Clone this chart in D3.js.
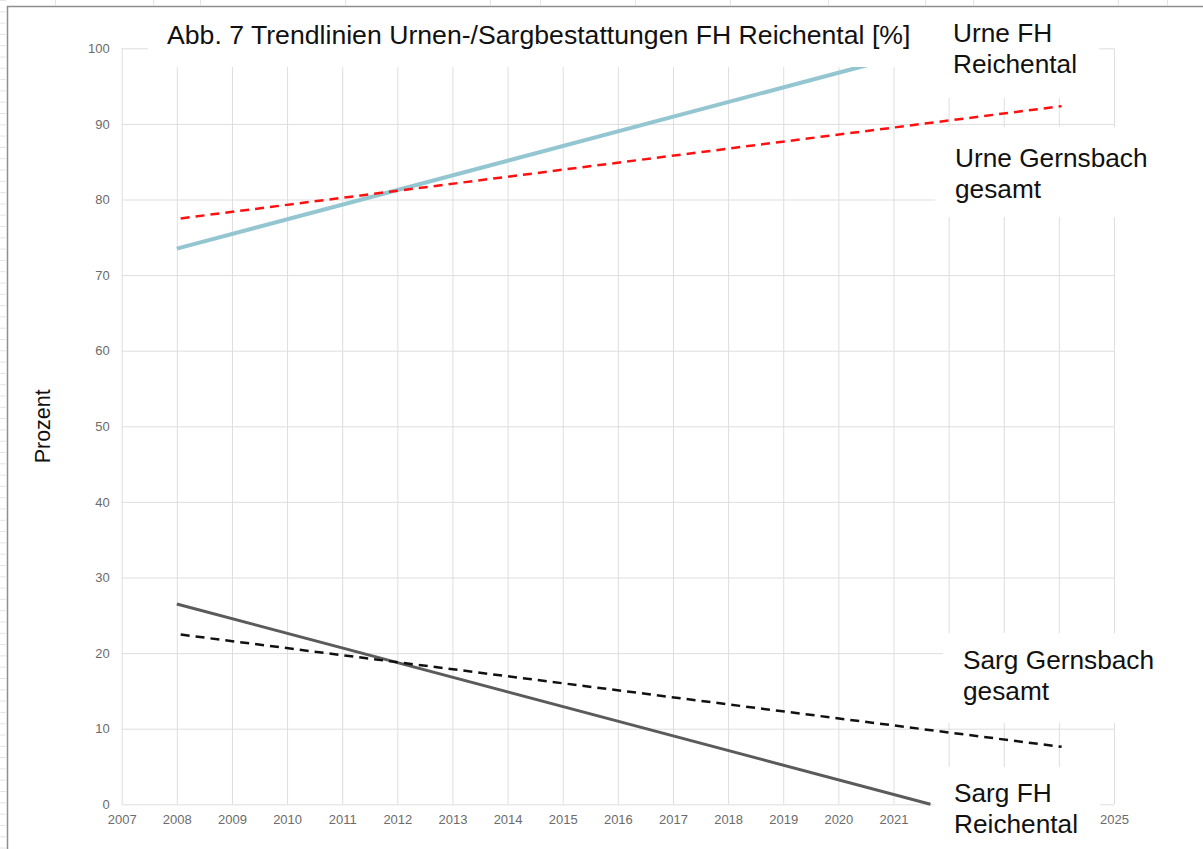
<!DOCTYPE html>
<html>
<head>
<meta charset="utf-8">
<script src="https://cdn.jsdelivr.net/npm/d3@7"></script>
<style>
  html, body { margin: 0; padding: 0; background: #fff; }
  svg { display: block; font-family: "Liberation Sans", Arial, sans-serif; }
  .tick text { fill: #6b6b6b; font-size: 13px; }
  .grid line { stroke: #dedede; stroke-width: 1; }
  .grid .domain { display: none; }
</style>
</head>
<body>
<svg id="chart" width="1203" height="849"></svg>
<script>
// axis ticks
const yearTicks = [2007, 2008, 2009, 2010, 2011, 2012, 2013, 2014, 2015, 2016,
	2017, 2018, 2019, 2020, 2021, 2022, 2023, 2024, 2025]
const percentTicks = [0, 10, 20, 30, 40, 50, 60, 70, 80, 90, 100]

// trend lines, start and end points [year, percent]
const urneFH = [[2008, 73.5], [2021.67, 100]]
const urneGernsbach = [[2008.07, 77.5], [2024.05, 92.35]]
const sargGernsbach = [[2008.07, 22.45], [2024.05, 7.6]]
const sargFH = [[2008, 26.5], [2021.67, 0]]

const titleText = 'Abb. 7 Trendlinien Urnen-/Sargbestattungen FH Reichental [%]'
const labelUrneFH = ['Urne FH', 'Reichental']
const labelUrneGernsbach = ['Urne Gernsbach', 'gesamt']
const labelSargGernsbach = ['Sarg Gernsbach', 'gesamt']
const labelSargFH = ['Sarg FH', 'Reichental']

const svg = d3.select('#chart')

const plotLeft = 121.7, plotRight = 1114, plotTop = 48.3, plotBottom = 804.3

const x = d3.scaleLinear().domain([2007, 2025]).range([plotLeft, plotRight])
const y = d3.scaleLinear().domain([0, 100]).range([plotBottom, plotTop])

// white text boxes pasted over the chart: x, y, width, height
const boxes = [
	[148, 8, 787, 59],
	[935, 8, 164, 90],
	[935, 127, 268, 90],
	[943, 633, 260, 90],
	[933, 767, 167, 82]
]
const underBox = (px, py) => boxes.some((b) =>
	px > b[0] && px < b[0] + b[2] && py > b[1] && py < b[1] + b[3])

// faint spreadsheet lines behind the pasted picture
const bg = svg.append('g').attr('stroke', '#e4e4e4').attr('stroke-width', 1)
bg.selectAll('line.row')
	.data(d3.range(0, 849, 11.3))
	.enter().append('line')
		.attr('x1', 0).attr('x2', 6)
		.attr('y1', (d) => d + 0.5).attr('y2', (d) => d + 0.5)
bg.selectAll('line.col')
	.data([55, 153, 200, 345, 490, 540, 635, 730, 828, 925, 973, 1118, 1167])
	.enter().append('line')
		.attr('x1', (d) => d + 0.5).attr('x2', (d) => d + 0.5)
		.attr('y1', 0).attr('y2', 5)

// frame of the picture
svg.append('path')
	.attr('d', 'M7.5,849 V6.5 H1203')
	.attr('fill', 'none')
	.attr('stroke', '#8e8e8e')
	.attr('stroke-width', 1.5)

// grid
svg.append('g')
	.attr('class', 'grid')
	.attr('transform', `translate(0,${plotBottom})`)
	.call(d3.axisBottom(x).tickValues(yearTicks).tickSize(-(plotBottom - plotTop)).tickFormat(''))
svg.append('g')
	.attr('class', 'grid')
	.attr('transform', `translate(${plotLeft},0)`)
	.call(d3.axisLeft(y).tickValues(percentTicks).tickSize(-(plotRight - plotLeft)).tickFormat(''))

// tick labels (those covered by a pasted box are not shown)
const xAxis = svg.append('g')
	.attr('transform', `translate(0,${plotBottom})`)
	.call(d3.axisBottom(x).tickValues(yearTicks).tickSize(0).tickPadding(10).tickFormat(d3.format('d')))
xAxis.select('.domain').remove()
xAxis.selectAll('.tick')
	.filter((d) => underBox(x(d), plotBottom + 16))
	.remove()

const yAxis = svg.append('g')
	.attr('transform', `translate(${plotLeft},0)`)
	.call(d3.axisLeft(y).tickValues(percentTicks).tickSize(0).tickPadding(12))
yAxis.select('.domain').remove()

svg.append('text')
	.attr('transform', `translate(50,${(plotTop + plotBottom) / 2}) rotate(-90)`)
	.attr('text-anchor', 'middle')
	.attr('font-size', 21.5)
	.attr('fill', '#111')
	.text('Prozent')

// trend lines
const line = d3.line().x((d) => x(d[0])).y((d) => y(d[1]))

svg.append('path').datum(urneFH)
	.attr('d', line).attr('fill', 'none')
	.attr('stroke', '#93c6d1').attr('stroke-width', 4)
svg.append('path').datum(sargFH)
	.attr('d', line).attr('fill', 'none')
	.attr('stroke', '#5b5b5b').attr('stroke-width', 3)
svg.append('path').datum(urneGernsbach)
	.attr('d', line).attr('fill', 'none')
	.attr('stroke', '#ff1010').attr('stroke-width', 2.5)
	.attr('stroke-dasharray', '9,6')
svg.append('path').datum(sargGernsbach)
	.attr('d', line).attr('fill', 'none')
	.attr('stroke', '#111').attr('stroke-width', 2.5)
	.attr('stroke-dasharray', '9,6')

svg.append('g').selectAll('rect')
	.data(boxes)
	.enter().append('rect')
		.attr('x', (d) => d[0]).attr('y', (d) => d[1])
		.attr('width', (d) => d[2]).attr('height', (d) => d[3])
		.attr('fill', '#fff')

// the pasted texts are a little wider than the font
svg.append('text')
	.attr('transform', 'translate(167,43.5) scale(1.066,1)')
	.attr('font-size', 25)
	.attr('fill', '#111')
	.text(titleText)

const addLabel = (lines, lx, ly) => {
	const t = svg.append('text')
		.attr('transform', `translate(${lx},${ly}) scale(1.05,1)`)
		.attr('font-size', 25)
		.attr('fill', '#111')
	t.selectAll('tspan')
		.data(lines)
		.enter().append('tspan')
			.attr('x', 0)
			.attr('dy', (d, i) => i ? 31 : 0)
			.text((d) => d)
}

addLabel(labelUrneFH, 953, 42.3)
addLabel(labelUrneGernsbach, 955, 166.7)
addLabel(labelSargGernsbach, 963, 669)
addLabel(labelSargFH, 954, 801.7)
</script>
</body>
</html>
